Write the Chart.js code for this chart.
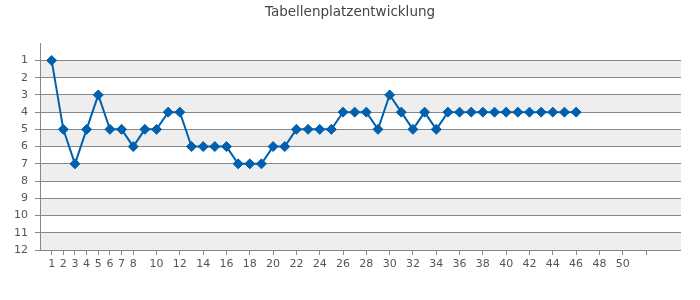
<!DOCTYPE html>
<html>
<head>
<meta charset="utf-8">
<script src="https://cdn.jsdelivr.net/npm/chart.js@4/dist/chart.umd.min.js"></script>
<style>
html,body{margin:0;padding:0;background:#fff;}
#wrap{width:700px;height:300px;}
</style>
</head>
<body>
<div id="wrap"><canvas id="c" width="700" height="300"></canvas></div>
<script>
const chartTitle = 'Tabellenplatzentwicklung';
const matchdays = [1,2,3,4,5,6,7,8,9,10,11,12,13,14,15,16,17,18,19,20,21,22,23,24,25,26,27,28,29,30,31,32,33,34,35,36,37,38,39,40,41,42,43,44,45,46];
const places = [1,5,7,5,3,5,5,6,5,5,4,4,6,6,6,6,7,7,7,6,6,5,5,5,5,4,4,4,5,3,4,5,4,5,4,4,4,4,4,4,4,4,4,4,4,4];
const xTickValues = [1,2,3,4,5,6,7,8,10,12,14,16,18,20,22,24,26,28,30,32,34,36,38,40,42,44,46,48,50,52];
const xTickLabels = ['1','2','3','4','5','6','7','8','10','12','14','16','18','20','22','24','26','28','30','32','34','36','38','40','42','44','46','48','50',''];
const yTickLabels = ['1','2','3','4','5','6','7','8','9','10','11','12'];

const bandPlugin = {
  id: 'bands',
  beforeDraw(chart) {
    const {ctx, chartArea, scales} = chart;
    const y = scales.y;
    ctx.save();
    ctx.fillStyle = '#eeeeee';
    for (let v = 1; v < 12; v += 2) {
      const y1 = y.getPixelForValue(v);
      const y2 = y.getPixelForValue(v + 1);
      ctx.fillRect(chartArea.left, Math.min(y1, y2), chartArea.right - chartArea.left, Math.abs(y2 - y1));
    }
    ctx.restore();
  }
};

new Chart(document.getElementById('c'), {
  type: 'line',
  data: {
    datasets: [{
      data: matchdays.map((m, i) => ({x: m, y: places[i]})),
      borderColor: '#0060ad',
      backgroundColor: '#0060ad',
      borderWidth: 2,
      tension: 0,
      pointStyle: 'rectRot',
      pointRadius: 5,
      pointBorderWidth: 1,
      pointBorderColor: '#0060ad',
      pointBackgroundColor: '#0060ad',
      fill: false
    }]
  },
  options: {
    responsive: false,
    animation: false,
    devicePixelRatio: 1,
    layout: {padding: 0},
    plugins: {
      legend: {display: false},
      tooltip: {enabled: false},
      title: {
        display: true,
        text: chartTitle,
        color: '#444444',
        font: {family: 'DejaVu Sans', size: 13.5, weight: 'normal'},
        padding: {top: 4, bottom: 23}
      }
    },
    scales: {
      x: {
        type: 'linear',
        min: 0,
        max: 55,
        afterBuildTicks(scale) {
          scale.ticks = xTickValues.map(v => ({value: v}));
        },
        afterFit(scale) { scale.height = 50; },
        ticks: {
          autoSkip: false,
          maxRotation: 0,
          minRotation: 0,
          padding: 3,
          color: '#555555',
          font: {family: 'DejaVu Sans', size: 11},
          callback(v) {
            const i = xTickValues.indexOf(v);
            return i >= 0 ? xTickLabels[i] : '';
          }
        },
        grid: {
          drawOnChartArea: false,
          drawTicks: true,
          tickLength: 5,
          color: '#888888',
          lineWidth: 1
        },
        border: {display: false}
      },
      y: {
        type: 'linear',
        min: 0,
        max: 12,
        reverse: true,
        afterBuildTicks(scale) {
          scale.ticks = [0,1,2,3,4,5,6,7,8,9,10,11,12].map(v => ({value: v}));
        },
        afterFit(scale) { scale.width = 40; },
        ticks: {
          padding: 7,
          color: '#555555',
          font: {family: 'DejaVu Sans', size: 11},
          callback(v) { return v >= 1 ? yTickLabels[v - 1] : ''; }
        },
        grid: {
          drawTicks: true,
          tickLength: 5,
          color(ctx) { return ctx.tick && ctx.tick.value === 0 ? 'rgba(0,0,0,0)' : '#888888'; },
          lineWidth: 1
        },
        border: {display: true, color: '#888888', width: 1}
      },
      yRight: {
        type: 'linear',
        position: 'right',
        display: true,
        min: 0,
        max: 12,
        afterFit(scale) { scale.width = 19; },
        ticks: {display: false},
        grid: {display: false, drawTicks: false},
        border: {display: false}
      }
    }
  },
  plugins: [bandPlugin]
});
</script>
</body>
</html>
